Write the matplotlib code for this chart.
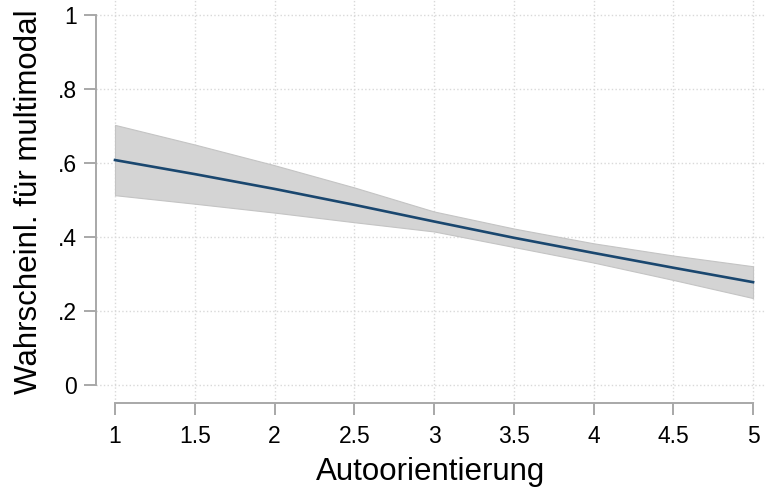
import numpy as np
import matplotlib
matplotlib.use("Agg")
import matplotlib.pyplot as plt

plt.rcParams['font.family'] = ['Liberation Sans', 'DejaVu Sans']

# predicted probabilities (margins) with 95% CI
auto = [1, 1.5, 2, 2.5, 3, 3.5, 4, 4.5, 5]
prob = [0.608, 0.570, 0.530, 0.487, 0.442, 0.398, 0.357, 0.317, 0.278]
ci_hi = [0.703, 0.650, 0.594, 0.534, 0.469, 0.423, 0.383, 0.350, 0.321]
ci_lo = [0.513, 0.490, 0.466, 0.440, 0.415, 0.373, 0.331, 0.284, 0.235]

xticks = [1, 1.5, 2, 2.5, 3, 3.5, 4, 4.5, 5]
xticklabels = ['1', '1.5', '2', '2.5', '3', '3.5', '4', '4.5', '5']
yticks = [0, 0.2, 0.4, 0.6, 0.8, 1]
yticklabels = ['0', '.2', '.4', '.6', '.8', '1']

fig = plt.figure(figsize=(7.65, 4.91), dpi=100)
ax = fig.add_axes([0.1255, 0.1792, 0.8745, 0.8208])

# confidence band
ax.fill_between(auto, ci_lo, ci_hi, facecolor='#d4d4d4', edgecolor='#c4c4c4',
                linewidth=0.8, zorder=2)
# prediction line
ax.plot(auto, prob, color='#1a476f', linewidth=1.9, zorder=3)

ax.set_xlim(0.881, 5.075)
ax.set_ylim(-0.0486, 1.0405)

ax.set_xticks(xticks)
ax.set_xticklabels(xticklabels)
ax.set_yticks(yticks)
ax.set_yticklabels(yticklabels)

# grid
ax.grid(True, color='#d9d9d9', linestyle=':', linewidth=1.0, zorder=0)
ax.set_axisbelow(True)

# spines in Stata style
for s in ['top', 'right']:
    ax.spines[s].set_visible(False)
ax.spines['left'].set_bounds(0, 1)
ax.spines['bottom'].set_bounds(1, 5)
for s in ['left', 'bottom']:
    ax.spines[s].set_color('#a8a8a8')
    ax.spines[s].set_linewidth(1.4)

ax.tick_params(axis='both', direction='out', length=8.5, width=1.4,
               color='#a8a8a8', labelsize=16.5, labelcolor='black')
ax.tick_params(axis='x', pad=7)
ax.tick_params(axis='y', pad=5)

ax.set_xlabel('Autoorientierung', fontsize=22.5, labelpad=7)
ax.set_ylabel('Wahrscheinl. für multimodal', fontsize=22.5, labelpad=10)

fig.savefig('out.png', dpi=100)
